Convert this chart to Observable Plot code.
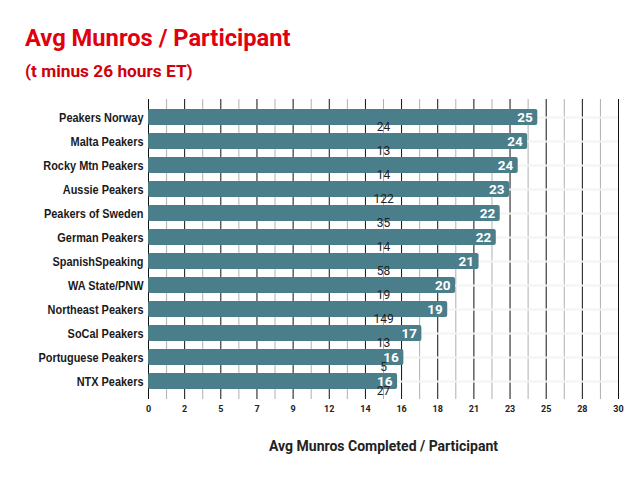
<!DOCTYPE html>
<html>
<head>
<meta charset="utf-8">
<script src="https://cdn.jsdelivr.net/npm/d3@7"></script>
<script src="https://cdn.jsdelivr.net/npm/@observablehq/plot@0.6"></script>
<style>
  html, body { margin: 0; padding: 0; background: #fff; }
  #wrap { width: 642px; height: 479px; overflow: hidden; }
  #head { position: relative; height: 90px; }
  #title { position: absolute; left: 25px; top: 26.5px; font: bold 23.7px Roboto, sans-serif; line-height: 1; color: #e1000f; white-space: nowrap; }
  #subtitle { position: absolute; left: 25px; top: 63px; font: bold 17.3px Roboto, sans-serif; line-height: 1; color: #d0000d; white-space: nowrap; }
  svg { display: block; }
</style>
</head>
<body>
<div id="wrap">
  <div id="head">
    <div id="title">Avg Munros / Participant</div>
    <div id="subtitle">(t minus 26 hours ET)</div>
  </div>
  <div id="chart"></div>
</div>
<script>
const groups = ["Peakers Norway", "Malta Peakers", "Rocky Mtn Peakers", "Aussie Peakers", "Peakers of Sweden", "German Peakers", "SpanishSpeaking", "WA State/PNW", "Northeast Peakers", "SoCal Peakers", "Portuguese Peakers", "NTX Peakers"];
const avgMunros = [24.85, 24.2, 23.6, 23.05, 22.45, 22.2, 21.1, 19.6, 19.1, 17.45, 16.3, 15.9];
const participants = [24, 13, 14, 122, 35, 14, 58, 19, 149, 13, 5, 27];
const xMax = 30;
const tickCount = 13;
const majorTicks = d3.range(tickCount + 1).map(i => i * xMax / tickCount);
const minorTicks = d3.range(tickCount).map(i => (i + 0.5) * xMax / tickCount);
const axisTitle = "Avg Munros Completed / Participant";

const rows = groups.map((g, i) => ({group: g, avg: avgMunros[i], n: participants[i]}));

const chart = Plot.plot({
  width: 642,
  height: 389,
  marginLeft: 148,
  marginRight: 24,
  marginTop: 9,
  marginBottom: 80,
  style: {fontFamily: "Roboto, sans-serif", background: "#fff"},
  x: {domain: [0, xMax], axis: null},
  y: {domain: groups, range: [13.93, 303.57], paddingInner: 0.34, paddingOuter: 0.17, axis: null},
  marks: [
    Plot.ruleX(minorTicks, {x: d => d, stroke: "#b0b0b0", strokeWidth: 1}),
    Plot.ruleX(majorTicks, {x: d => d, stroke: "#111", strokeWidth: 1}),
    Plot.ruleY(groups, {y: d => d, stroke: "#f3f3f3", strokeWidth: 2}),
    Plot.barX(rows, {x1: 0, x2: "avg", y: "group", fill: "#4a7e8b", rx: 2}),
    Plot.text(rows, {x: "avg", y: "group", text: d => String(Math.round(d.avg)), textAnchor: "end", dx: -5, fill: "#fff", fontWeight: "bold", fontSize: 13.5}),
    Plot.text(rows, {x: xMax / 2, y: "group", text: d => String(d.n), dy: 10, fill: "#222", fontSize: 12}),
    Plot.text(rows, {x: 0, y: "group", text: "group", textAnchor: "end", dx: -5, fill: "#1a1a1a", fontWeight: "bold", fontSize: 13, fontFamily: "'Liberation Sans', Arial, sans-serif"}),
    Plot.text(majorTicks, {x: d => d, frameAnchor: "bottom", dy: 12, text: d => String(Math.round(d)), fontWeight: "bold", fontSize: 9, fill: "#222"}),
    Plot.text([axisTitle], {x: xMax / 2, frameAnchor: "bottom", dy: 51, lineAnchor: "bottom", text: d => d, fontWeight: "bold", fontSize: 14, fill: "#222"})
  ]
});
document.getElementById("chart").appendChild(chart);
// condense the category labels (the reference uses a narrow face)
chart.querySelectorAll("text").forEach(t => {
  if (!groups.includes(t.textContent)) return;
  const w = t.getComputedTextLength();
  if (w > 0) {
    t.setAttribute("textLength", (w * 0.84).toFixed(1));
    t.setAttribute("lengthAdjust", "spacingAndGlyphs");
  }
});
</script>
</body>
</html>
